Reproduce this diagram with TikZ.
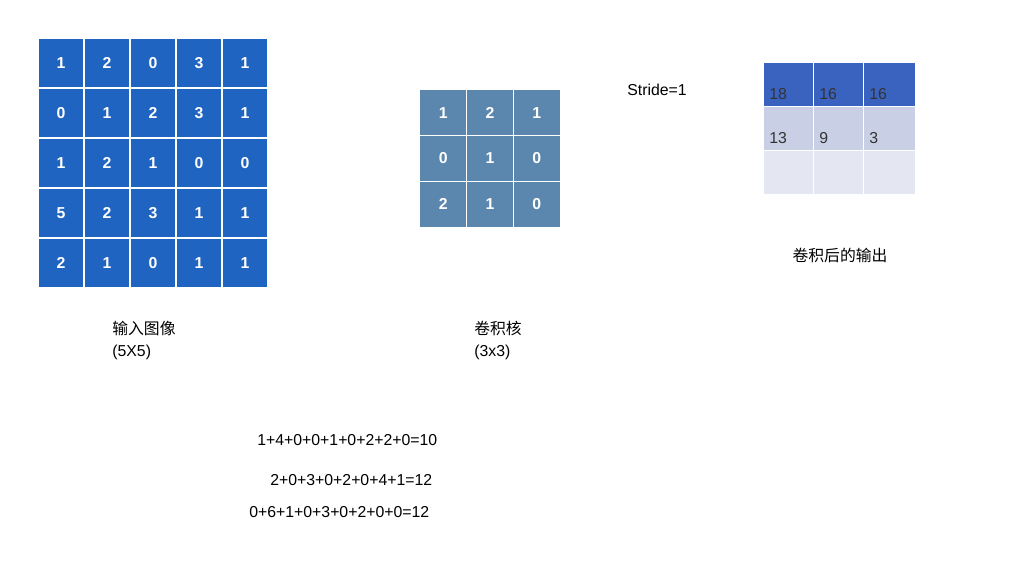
\documentclass[tikz,border=0pt]{standalone}
\usepackage{fontspec}
\setmainfont{Liberation Sans}
\newfontfamily\cjk{Noto Sans CJK SC}
\definecolor{inblue}{HTML}{1F64C0}
\definecolor{kerblue}{HTML}{5B86AE}
\definecolor{outtop}{HTML}{3A63C0}
\definecolor{outmid}{HTML}{C9D0E6}
\definecolor{outlow}{HTML}{E4E6F2}
\tikzset{
  incell/.style={fill=inblue,draw=white,line width=0.6pt,minimum width=0.92cm,minimum height=1cm,text=white,font=\bfseries\small},
  kercell/.style={fill=kerblue,draw=white,line width=0.6pt,minimum width=0.934cm,minimum height=0.914cm,text=white,font=\bfseries\small},
  outcell/.style={draw=white,line width=0.6pt,minimum width=1cm,minimum height=0.88cm,text=#1,font=\small,anchor=north west},
  lbl/.style={anchor=west,font=\small,inner sep=0pt}
}
\begin{document}
\begin{tikzpicture}[x=0.02cm,y=-0.02cm]
\useasboundingbox (0,0) rectangle (1023,573);

% input image
\foreach \row [count=\i from 0] in {{1,2,0,3,1},{0,1,2,3,1},{1,2,1,0,0},{5,2,3,1,1},{2,1,0,1,1}}
  \foreach \v [count=\j from 0] in \row
    \node[incell] (I\i\j) at (61+46*\j,63+50*\i) {\v};

% kernel
\foreach \row [count=\i from 0] in {{1,2,1},{0,1,0},{2,1,0}}
  \foreach \v [count=\j from 0] in \row
    \node[kercell] (K\i\j) at (443.3+46.7*\j,112.8+45.7*\i) {\v};

% output
\foreach \v [count=\j from 0] in {10,12,12}
  \node[outcell=white,fill=outtop,font=\bfseries\small] (O0\j) at (763+50*\j,62) {\raisebox{3.5ex}[0pt][0pt]{\makebox[0.8cm][l]{\v}}};
\foreach \v [count=\j from 0] in {18,16,16}
  \node[outcell=black!80,fill=outmid] (O1\j) at (763+50*\j,106) {\raisebox{3.5ex}[0pt][0pt]{\makebox[0.8cm][l]{\v}}};
\foreach \v [count=\j from 0] in {13,9,3}
  \node[outcell=black!80,fill=outlow] (O2\j) at (763+50*\j,150) {\raisebox{3.5ex}[0pt][0pt]{\makebox[0.8cm][l]{\v}}};

% labels
\node[lbl] (inname) at (112,328) {\cjk 输入图像};
\node[lbl] (insize) at (112,352) {(5X5)};
\node[lbl] (kername) at (474,328) {\cjk 卷积核};
\node[lbl] (kersize) at (474,352) {(3x3)};
\node[lbl] (stride) at (627,90) {Stride=1};
\node[font=\small] (outname) at (840,255) {\cjk 卷积后的输出};

\node[lbl] (eqa) at (257,440) {1+4+0+0+1+0+2+2+0=10};
\node[lbl] (eqb) at (270,480) {2+0+3+0+2+0+4+1=12};
\node[lbl] (eqc) at (249,512) {0+6+1+0+3+0+2+0+0=12};
\end{tikzpicture}
\end{document}
